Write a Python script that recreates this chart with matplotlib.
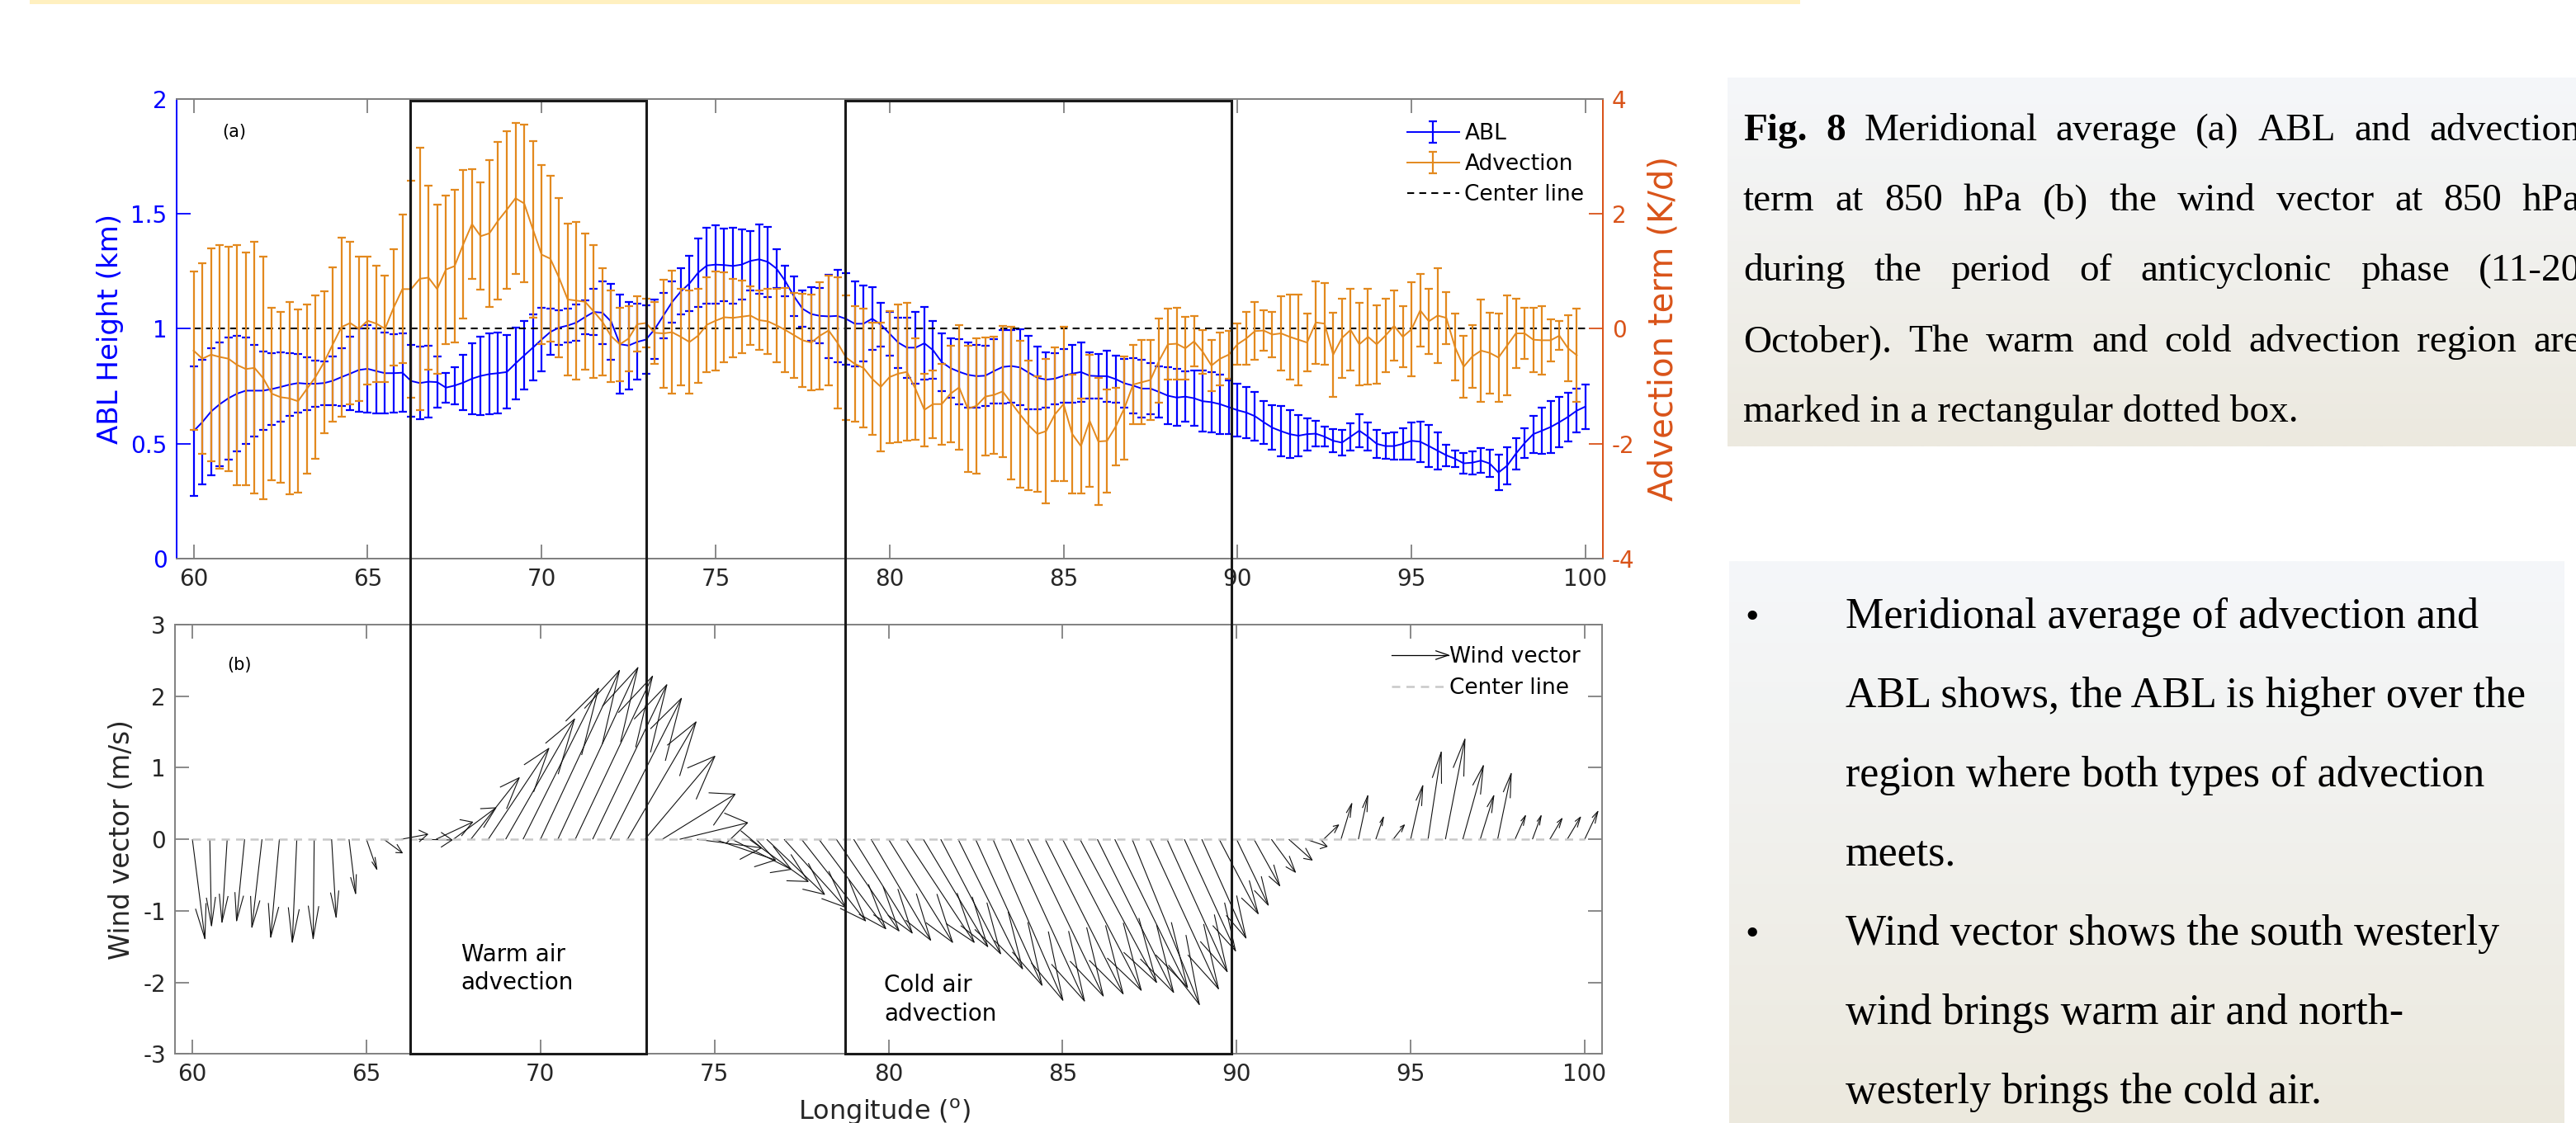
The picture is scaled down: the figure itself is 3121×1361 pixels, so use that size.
import numpy as np
import matplotlib
matplotlib.use('Agg')
import matplotlib.pyplot as plt
import matplotlib.transforms as mtransforms
from matplotlib.collections import LineCollection
from matplotlib.legend_handler import HandlerBase
from matplotlib.lines import Line2D
from matplotlib.patches import Rectangle

plt.rcParams['axes.unicode_minus'] = False

W, H = 3121, 1361

# ---- panel (a): meridional averages on a 0.25 deg grid ----
lon = np.arange(60, 100.01, 0.25)

abl = [0.555, 0.594, 0.640, 0.672, 0.698, 0.718, 0.731, 0.731, 0.731, 0.738,
       0.747, 0.757, 0.764, 0.761, 0.761, 0.764, 0.774, 0.790, 0.805, 0.821,
       0.826, 0.816, 0.807, 0.807, 0.809, 0.773, 0.764, 0.770, 0.768, 0.744,
       0.753, 0.766, 0.783, 0.795, 0.803, 0.807, 0.812, 0.849, 0.884, 0.918,
       0.953, 0.986, 1.005, 1.014, 1.027, 1.051, 1.073, 1.070, 1.031, 0.933,
       0.927, 0.943, 0.953, 0.998, 1.057, 1.116, 1.162, 1.197, 1.244, 1.275,
       1.279, 1.277, 1.273, 1.279, 1.295, 1.302, 1.291, 1.262, 1.208, 1.142,
       1.087, 1.064, 1.056, 1.054, 1.056, 1.043, 1.022, 1.022, 1.044, 1.018,
       0.979, 0.940, 0.918, 0.918, 0.937, 0.907, 0.855, 0.829, 0.813, 0.800,
       0.794, 0.796, 0.816, 0.834, 0.838, 0.832, 0.809, 0.787, 0.779, 0.783,
       0.796, 0.805, 0.812, 0.796, 0.794, 0.794, 0.781, 0.763, 0.753, 0.740,
       0.740, 0.725, 0.709, 0.701, 0.705, 0.698, 0.685, 0.681, 0.672, 0.659,
       0.646, 0.636, 0.620, 0.594, 0.570, 0.555, 0.542, 0.535, 0.542, 0.544,
       0.531, 0.513, 0.505, 0.531, 0.557, 0.531, 0.500, 0.490, 0.490, 0.500,
       0.513, 0.509, 0.490, 0.470, 0.450, 0.435, 0.415, 0.418, 0.427, 0.414,
       0.375, 0.405, 0.457, 0.503, 0.542, 0.557, 0.573, 0.594, 0.617, 0.644,
       0.662]

abl_err = [0.28, 0.27, 0.276, 0.27, 0.265, 0.25, 0.23, 0.2, 0.17, 0.155,
           0.15, 0.137, 0.127, 0.114, 0.1, 0.095, 0.105, 0.127, 0.16, 0.18,
           0.19, 0.185, 0.175, 0.17, 0.17, 0.157, 0.157, 0.157, 0.11, 0.065,
           0.08, 0.12, 0.155, 0.17, 0.176, 0.176, 0.16, 0.157, 0.149, 0.144,
           0.137, 0.1, 0.075, 0.074, 0.08, 0.074, 0.1, 0.137, 0.165, 0.215,
           0.19, 0.165, 0.15, 0.13, 0.1, 0.09, 0.1, 0.12, 0.15, 0.165,
           0.17, 0.157, 0.165, 0.153, 0.13, 0.15, 0.153, 0.084, 0.065, 0.085,
           0.08, 0.116, 0.12, 0.18, 0.2, 0.2, 0.184, 0.165, 0.136, 0.095,
           0.094, 0.11, 0.13, 0.155, 0.157, 0.126, 0.126, 0.128, 0.142, 0.142,
           0.137, 0.13, 0.14, 0.16, 0.158, 0.165, 0.16, 0.137, 0.12, 0.112,
           0.116, 0.125, 0.128, 0.1, 0.098, 0.11, 0.103, 0.106, 0.12, 0.125,
           0.11, 0.11, 0.125, 0.124, 0.11, 0.12, 0.133, 0.132, 0.13, 0.118,
           0.116, 0.11, 0.106, 0.093, 0.097, 0.109, 0.104, 0.091, 0.07, 0.056,
           0.042, 0.05, 0.055, 0.059, 0.072, 0.061, 0.06, 0.055, 0.058, 0.068,
           0.081, 0.088, 0.091, 0.081, 0.047, 0.035, 0.044, 0.05, 0.053, 0.059,
           0.076, 0.081, 0.068, 0.063, 0.081, 0.1, 0.112, 0.11, 0.106, 0.096,
           0.097]

advection = [-0.38, -0.52, -0.45, -0.49, -0.52, -0.63, -0.70, -0.68, -0.86, -1.13,
             -1.19, -1.21, -1.26, -1.05, -0.84, -0.58, -0.27, 0.03, 0.10, 0.00,
             0.14, 0.09, 0.00, 0.37, 0.69, 0.69, 0.87, 0.89, 0.69, 1.03,
             1.09, 1.47, 1.82, 1.61, 1.66, 1.88, 2.07, 2.27, 2.18, 1.73,
             1.29, 1.22, 0.89, 0.51, 0.49, 0.47, 0.30, 0.12, -0.13, -0.27,
             -0.17, 0.08, 0.10, -0.07, -0.08, -0.06, -0.14, -0.23, -0.12, 0.07,
             0.14, 0.20, 0.19, 0.21, 0.23, 0.15, 0.13, 0.06, -0.02, -0.11,
             -0.20, -0.24, -0.12, -0.03, -0.24, -0.50, -0.61, -0.68, -0.87, -1.01,
             -0.84, -0.78, -0.75, -1.05, -1.41, -1.31, -1.31, -1.13, -1.02, -1.39,
             -1.34, -1.18, -1.15, -1.09, -1.29, -1.49, -1.68, -1.83, -1.78, -1.49,
             -1.31, -1.83, -2.04, -1.60, -1.96, -1.95, -1.70, -1.38, -0.97, -0.93,
             -0.89, -0.55, -0.27, -0.26, -0.34, -0.22, -0.40, -0.64, -0.52, -0.45,
             -0.27, -0.17, -0.04, -0.03, -0.10, -0.08, -0.14, -0.19, -0.24, 0.11,
             0.09, -0.45, -0.16, -0.02, -0.27, -0.14, -0.27, -0.12, 0.05, -0.14,
             -0.01, 0.32, 0.13, 0.23, 0.19, -0.32, -0.66, -0.48, -0.38, -0.42,
             -0.50, -0.29, -0.08, -0.08, -0.19, -0.20, -0.20, -0.12, -0.34, -0.46]

advection_err = [1.38, 1.66, 1.85, 1.94, 1.95, 2.09, 2.02, 2.19, 2.11, 1.5,
                 1.48, 1.67, 1.59, 1.47, 1.42, 1.23, 1.34, 1.56, 1.41, 1.25,
                 1.11, 1.01, 0.92, 1.01, 1.29, 1.89, 2.28, 1.6, 1.47, 1.29,
                 1.33, 1.29, 0.95, 0.93, 1.28, 1.37, 1.37, 1.31, 1.37, 1.54,
                 1.56, 1.44, 1.39, 1.32, 1.37, 1.18, 1.15, 0.93, 0.8, 0.64,
                 0.57, 0.48, 0.42, 0.54, 0.94, 1.07, 0.84, 0.9, 0.82, 0.83,
                 0.86, 0.78, 0.68, 0.63, 0.51, 0.51, 0.57, 0.64, 0.73, 0.74,
                 0.81, 0.83, 0.93, 0.96, 1.14, 1.08, 1.0, 1.03, 0.97, 1.12,
                 1.15, 1.2, 1.2, 0.88, 0.63, 0.59, 0.7, 0.84, 1.08, 1.1,
                 1.18, 1.03, 1.02, 1.14, 1.33, 1.28, 1.12, 1.0, 1.26, 1.16,
                 1.34, 1.04, 0.82, 1.15, 1.1, 0.9, 0.68, 0.9, 0.69, 0.73,
                 0.69, 0.73, 0.62, 0.62, 0.55, 0.44, 0.38, 0.44, 0.46, 0.42,
                 0.36, 0.46, 0.5, 0.35, 0.39, 0.64, 0.74, 0.79, 0.5, 0.72,
                 0.71, 0.73, 0.69, 0.71, 0.72, 0.83, 0.68, 0.64, 0.61, 0.53,
                 0.82, 0.63, 0.57, 0.83, 0.45, 0.58, 0.54, 0.55, 0.89, 0.7,
                 0.77, 0.87, 0.6, 0.44, 0.56, 0.6, 0.37, 0.25, 0.57, 0.81]

# ---- panel (b): wind vectors every 0.5 deg (plotted components) ----
lon_wind = np.arange(60, 100.01, 0.5)
wind_u = [0.36, 0.05, -0.15, -0.23, -0.29, -0.25, -0.13, -0.03, 0.13, 0.19,
          0.30, 0.53, 0.76, 0.96, 1.05, 1.22, 1.39, 1.74, 1.98, 2.17,
          2.27, 2.30, 2.22, 2.13, 2.05, 1.97, 2.01, 2.09, 1.95, 1.85,
          1.75, 1.70, 1.69, 1.66, 1.76, 1.84, 1.92, 1.80, 1.68, 1.71,
          1.84, 1.96, 1.85, 1.72, 1.85, 1.91, 2.01, 2.13, 2.17, 2.24,
          2.26, 2.20, 2.19, 2.09, 1.93, 1.98, 1.73, 1.47, 1.27, 1.12,
          0.91, 0.74, 0.69, 0.67, 0.60, 0.43, 0.31, 0.27, 0.22, 0.32,
          0.35, 0.38, 0.56, 0.59, 0.39, 0.39, 0.30, 0.25, 0.35, 0.38,
          0.38]
wind_v = [-1.39, -1.21, -1.16, -1.14, -1.23, -1.37, -1.44, -1.39, -1.09, -0.76,
          -0.42, -0.19, 0.07, -0.01, 0.24, 0.44, 0.86, 1.27, 1.68, 2.11,
          2.36, 2.40, 2.28, 2.16, 1.97, 1.64, 1.16, 0.63, 0.23, -0.12,
          -0.29, -0.42, -0.59, -0.77, -0.95, -1.14, -1.25, -1.28, -1.31, -1.41,
          -1.44, -1.44, -1.50, -1.60, -1.81, -2.04, -2.25, -2.26, -2.19, -2.16,
          -2.11, -2.00, -2.14, -2.07, -2.31, -2.09, -1.85, -1.56, -1.38, -1.04,
          -0.92, -0.65, -0.46, -0.29, -0.10, 0.20, 0.50, 0.61, 0.31, 0.20,
          0.75, 1.22, 1.40, 1.03, 0.61, 0.92, 0.33, 0.33, 0.29, 0.31,
          0.39]

warm_box = (66.25, 73.05)
cold_box = (78.75, 89.85)

caption_lines = [
    ["Fig.", "8", "Meridional", "average", "(a)", "ABL", "and", "advection"],
    "term at 850 hPa (b) the wind vector at 850 hPa".split(),
    "during the period of anticyclonic phase (11-20".split(),
    "October). The warm and cold advection region are".split(),
]
caption_last = "marked in a rectangular dotted box."
bullet_lines = [
    (True, "Meridional average of advection and"),
    (False, "ABL shows, the ABL is higher over the"),
    (False, "region where both types of advection"),
    (False, "meets."),
    (True, "Wind vector shows the south westerly"),
    (False, "wind brings warm air and north-"),
    (False, "westerly brings the cold air."),
]

BLUE = '#0000FF'
ORANGE = '#E3891E'
RED = '#D95319'
GREY = '#808080'
INK = '#262626'
SERIF = 'Liberation Serif'

fig = plt.figure(figsize=(W / 100, H / 100), dpi=100)
fig.patch.set_facecolor('white')


def px_axes(left, top, right, bottom, **kw):
    return fig.add_axes([left / W, 1 - bottom / H, (right - left) / W, (bottom - top) / H], **kw)


# thin yellow strip along the top
fig.add_artist(Rectangle((36 / W, 1 - 5 / H), (2181 - 36) / W, 5 / H,
                         transform=fig.transFigure, color='#FFF0C0', lw=0))

# ---------------- panel (a) ----------------
ax_a = px_axes(213.5, 119.7, 1942, 677.2)
ax_r = ax_a.twinx()

h_abl = ax_a.errorbar(lon, abl, yerr=abl_err, color=BLUE, lw=1.4, elinewidth=1.6,
                      capsize=3.5, capthick=1.6)
h_c, = ax_a.plot([lon[0], lon[-1]], [1, 1], '--', color='k', lw=1.5, dashes=(4, 3))
h_adv = ax_r.errorbar(lon[:len(advection)], advection, yerr=advection_err, color=ORANGE,
                      lw=1.4, elinewidth=1.6, capsize=3.5, capthick=1.6)

ax_a.set_xlim(59.5, 100.5)
ax_a.set_ylim(0, 2)
ax_r.set_ylim(-4, 4)
ax_a.set_xticks(range(60, 101, 5))
ax_a.set_yticks([0, 0.5, 1, 1.5, 2])
ax_a.set_yticklabels(['0', '0.5', '1', '1.5', '2'])
ax_r.set_yticks([-4, -2, 0, 2, 4])

for ax in (ax_a, ax_r):
    for sp in ax.spines.values():
        sp.set_linewidth(1.4)
    ax.spines['top'].set_color(GREY)
    ax.spines['bottom'].set_color(GREY)
    ax.spines['left'].set_color(BLUE)
    ax.spines['right'].set_color(RED)

ax_a.tick_params(axis='x', direction='in', length=12, width=1.3, top=True, color=GREY,
                 labelcolor=INK, labelsize=20, pad=8)
ax_a.tick_params(axis='y', direction='in', length=12, width=1.3, colors=BLUE,
                 labelsize=20, pad=8)
ax_r.tick_params(axis='y', direction='in', length=12, width=1.3, colors=RED,
                 labelsize=20, pad=8)

ax_a.set_ylabel('ABL Height (km)', color=BLUE, fontsize=24.5)
ax_a.yaxis.set_label_coords(-0.037, 0.5)
ax_r.set_ylabel('Advection term (K/d)', color=RED, fontsize=29)
ax_r.yaxis.set_label_coords(1.031, 0.5)
ax_a.text(60.83, 1.855, '(a)', fontsize=15, va='center')

ax_r.legend([h_abl, h_adv, h_c], ['ABL', 'Advection', 'Center line'],
            loc='upper left', bbox_to_anchor=(0.855, 0.971), frameon=False,
            fontsize=19, handlelength=2.4, handletextpad=0.25, labelspacing=0.42,
            borderpad=0)

# ---------------- panel (b) ----------------
ax_b = px_axes(212, 757, 1941, 1277.3)


def quiver_lines(x, u, v, alpha=0.33, beta=0.33):
    # shaft plus an open arrow head, the way MATLAB's quiver builds it
    segs = []
    for xi, ui, vi in zip(x, u, v):
        tx, ty = xi + ui, vi
        segs.append([(xi, 0), (tx, ty)])
        segs.append([(tx - alpha * (ui + beta * vi), ty - alpha * (vi - beta * ui)),
                     (tx, ty),
                     (tx - alpha * (ui - beta * vi), ty - alpha * (vi + beta * ui))])
    return segs


ax_b.add_collection(LineCollection(quiver_lines(lon_wind, wind_u, wind_v),
                                   colors='#111111', linewidths=0.8))
ax_b.plot([lon_wind[0], lon_wind[-1]], [0, 0], '--', color='#C8C8C8', lw=1.8,
          dashes=(4, 3))

ax_b.set_xlim(59.5, 100.5)
ax_b.set_ylim(-3, 3)
ax_b.set_xticks(range(60, 101, 5))
ax_b.set_yticks(range(-3, 4))
for sp in ax_b.spines.values():
    sp.set_color(GREY)
    sp.set_linewidth(1.4)
ax_b.tick_params(direction='in', length=12, width=1.3, color=GREY, labelcolor=INK,
                 labelsize=20, top=True, right=True)
ax_b.tick_params(axis='x', pad=8)
ax_b.tick_params(axis='y', pad=8)
ax_b.set_ylabel('Wind vector (m/s)', fontsize=23.5, color=INK)
ax_b.yaxis.set_label_coords(-0.028, 0.5)
ax_b.set_xlabel('Longitude ($^{\\rm o}$)', fontsize=23, color=INK)
ax_b.xaxis.set_label_coords(0.497, -0.1)
ax_b.text(61.0, 2.43, '(b)', fontsize=15, va='center')
ax_b.text(67.72, -1.81, 'Warm air\nadvection', fontsize=20, va='center', linespacing=1.3)
ax_b.text(79.88, -2.24, 'Cold air\nadvection', fontsize=20, va='center', linespacing=1.3)


class HandlerArrow(HandlerBase):
    def create_artists(self, legend, orig_handle, xdescent, ydescent, width, height,
                       fontsize, trans):
        y = height / 2 - ydescent
        x0, x1 = -xdescent, width - xdescent
        hl = 0.22 * width
        shaft = Line2D([x0, x1], [y, y], color='k', lw=0.9, transform=trans)
        head = Line2D([x1 - hl, x1, x1 - hl], [y + 0.28 * height, y, y - 0.28 * height],
                      color='k', lw=0.9, transform=trans)
        return [shaft, head]


arrow_proxy = Line2D([], [], color='k')
center_proxy = Line2D([], [], color='#C8C8C8', ls='--', lw=1.8, dashes=(4, 3))
ax_b.legend([arrow_proxy, center_proxy], ['Wind vector', 'Center line'],
            handler_map={arrow_proxy: HandlerArrow()}, loc='upper left',
            bbox_to_anchor=(0.845, 0.975), frameon=False, fontsize=19,
            handlelength=2.6, handletextpad=0.05, labelspacing=0.45, borderpad=0)

# dotted-box regions spanning both panels
span = mtransforms.blended_transform_factory(ax_b.transData, fig.transFigure)
for x0, x1 in (warm_box, cold_box):
    fig.add_artist(Rectangle((x0, 1 - 1277.3 / H), x1 - x0, (1277.3 - 122) / H,
                             transform=span, fill=False, ec='#1A1A1A', lw=2.2,
                             zorder=5))


# ---------------- text panels on the right ----------------
def gradient_box(left, top, right, bottom, c_top, c_bottom):
    axg = px_axes(left, top, right, bottom, zorder=-1)
    t = np.linspace(0, 1, 256)[:, None]
    c0 = np.array(matplotlib.colors.to_rgb(c_top))
    c1 = np.array(matplotlib.colors.to_rgb(c_bottom))
    img = (1 - t)[:, :, None] * c0 + t[:, :, None] * c1
    axg.imshow(img, aspect='auto', extent=[0, 1, 0, 1])
    axg.axis('off')


gradient_box(2093, 94, 3125, 541, '#F5F7FA', '#ECE9DF')
gradient_box(2095, 680, 3107, 1365, '#F5F7FA', '#ECE9DE')

renderer = fig.canvas.get_renderer()


def justified(words, x0, x1, y, size, n_bold=0):
    arts = [fig.text(0, 1 - y / H, w, fontsize=size, family=SERIF, va='baseline',
                     fontweight='bold' if k < n_bold else 'normal')
            for k, w in enumerate(words)]
    widths = [a.get_window_extent(renderer).width for a in arts]
    gap = (x1 - x0 - sum(widths)) / (len(words) - 1)
    x = x0
    for a, wd in zip(arts, widths):
        a.set_x(x / W)
        x += wd + gap


base = 169.6
for k, words in enumerate(caption_lines):
    justified(words, 2112, 3127, base + 85.4 * k, 34, n_bold=2 if k == 0 else 0)
fig.text(2112 / W, 1 - (base + 85.4 * 4) / H, caption_last, fontsize=34, family=SERIF,
         va='baseline')

for k, (bullet, line) in enumerate(bullet_lines):
    yb = 760.6 + 96 * k
    if bullet:
        fig.text(2114 / W, 1 - yb / H, '\u2022', fontsize=34, family=SERIF, va='baseline')
    fig.text(2236 / W, 1 - yb / H, line, fontsize=37.5, family=SERIF, va='baseline')

fig.savefig('out.png', dpi=100)
